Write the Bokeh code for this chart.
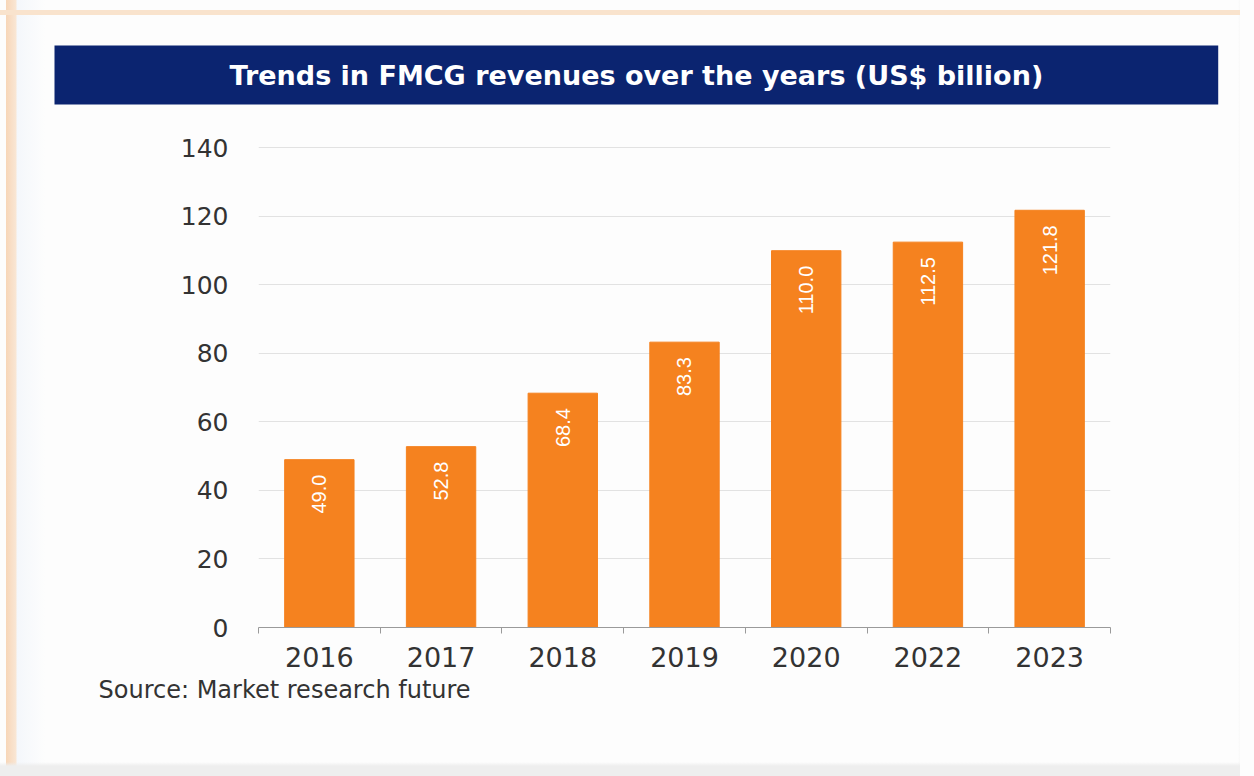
import math
from bokeh.plotting import figure
from bokeh.models import (ColumnDataSource, Range1d, FixedTicker, LabelSet, Title)
from bokeh.core.properties import value
from bokeh.embed import file_html
from bokeh.resources import INLINE

# ---- data ----
years = ["2016", "2017", "2018", "2019", "2020", "2022", "2023"]
revenues = [49.0, 52.8, 68.4, 83.3, 110.0, 112.5, 121.8]
value_labels = ["49.0", "52.8", "68.4", "83.3", "110.0", "112.5", "121.8"]
y_ticks = [0, 20, 40, 60, 80, 100, 120, 140]
title_text = "Trends in FMCG revenues over the years (US$ billion)"
source_text = "Source: Market research future"

ORANGE = "#f5821f"
NAVY = "#0b2470"
TEXT = "#333333"

n = len(years)
slot = [i + 0.5 for i in range(n)]          # category slot centres on the x scale
bounds = list(range(n + 1))                 # category boundaries (tick marks)

W, H = 1254, 776
page_bg = ("linear-gradient(to right, transparent 1240px, #fdfdfd 1240px), "
           "linear-gradient(to bottom, transparent 10px, #f9e3cd 10px, #f9e3cd 15px, transparent 15px), "
           "linear-gradient(to bottom, transparent 762px, #eeeeee 766px), "
           "linear-gradient(to right, transparent 6px, #f7d6b8 6px, #f9e6d4 16px, #f4f7fb 17px, #fdfdfd 45px, #fdfdfd 1238px, #efefef 1244px), "
           "#fdfdfd")
p = figure(width=W, height=H, output_backend="svg", toolbar_location=None,
           x_range=Range1d(0, n), y_range=Range1d(0, 141),
           min_border_left=258, min_border_right=144, min_border_top=144, min_border_bottom=149,
           styles={"background": page_bg})
p.border_fill_color = None
p.background_fill_color = None
p.outline_line_color = None

src = ColumnDataSource(dict(x=slot, year=years, value=revenues, label=value_labels))
p.vbar(x="x", top="value", width=0.57, source=src, fill_color=ORANGE, line_color=ORANGE)

# bar value labels, rotated
p.add_layout(LabelSet(x="x", y="value", text="label", source=src, angle=math.pi / 2,
                      text_align="right", text_baseline="middle", y_offset=-15,
                      text_color="white", text_font=value("Liberation Sans"),
                      text_font_size="20px"))

# y axis
yax = p.yaxis[0]
yax.ticker = FixedTicker(ticks=y_ticks)
yax.axis_line_color = None
yax.major_tick_line_color = None
yax.minor_tick_line_color = None
yax.major_label_standoff = 24
yax.major_label_text_font = "DejaVu Sans"
yax.major_label_text_font_size = "25px"
yax.major_label_text_color = TEXT

p.xgrid.grid_line_color = None
p.ygrid.ticker = FixedTicker(ticks=y_ticks)
p.ygrid.grid_line_color = "#e2e2e2"

# x axis: labels at slot centres, short ticks between categories
xax = p.xaxis[0]
xax.ticker = FixedTicker(ticks=slot, minor_ticks=bounds)
xax.major_label_overrides = {s: y for s, y in zip(slot, years)}
xax.axis_line_color = "#9a9a9a"
xax.major_tick_line_color = None
xax.major_tick_in = 0
xax.major_tick_out = 0
xax.minor_tick_line_color = "#9a9a9a"
xax.minor_tick_in = 0
xax.minor_tick_out = 6
xax.major_label_standoff = 13
xax.major_label_text_font = "DejaVu Sans"
xax.major_label_text_font_size = "27px"
xax.major_label_text_color = TEXT

# title bar
p.title.text = title_text
p.title.align = "left"
p.title.offset = -204
p.title.standoff = 80
p.title.text_color = "white"
p.title.text_font = "DejaVu Sans"
p.title.text_font_style = "bold"
p.title.text_font_size = "27px"
p.title.background_fill_color = NAVY
p.title.padding = (175, 14)

# source note
p.add_layout(Title(text=source_text, align="left", offset=-160, standoff=8,
                   text_color=TEXT, text_font="DejaVu Sans", text_font_style="normal",
                   text_font_size="24px"), "below")

open("out.html", "w").write(file_html(p, INLINE))
